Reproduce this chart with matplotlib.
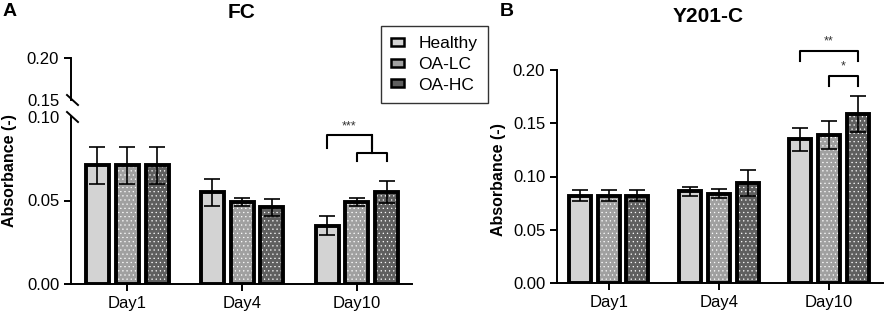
import numpy as np
import matplotlib.pyplot as plt
from matplotlib.patches import Patch

plt.rcParams['font.family'] = ['Liberation Sans', 'DejaVu Sans']
plt.rcParams['hatch.linewidth'] = 0.4

days = ["Day1", "Day4", "Day10"]
groups = ["Healthy", "OA-LC", "OA-HC"]
colors = ["#d3d3d3", "#a0a0a0", "#5f5f5f"]
hatches = [None, "....", "...."]

fc_mean = [[0.071, 0.055, 0.035],
           [0.071, 0.049, 0.049],
           [0.071, 0.046, 0.055]]
fc_err = [[0.011, 0.008, 0.0055],
          [0.011, 0.0025, 0.0025],
          [0.011, 0.005, 0.0065]]

y201_mean = [[0.082, 0.086, 0.135],
             [0.082, 0.084, 0.139],
             [0.082, 0.094, 0.159]]
y201_err = [[0.005, 0.0045, 0.011],
            [0.005, 0.004, 0.0135],
            [0.005, 0.012, 0.017]]

x = np.arange(len(days))
off = 0.26
w = 0.2


def draw_bars(ax, means, errs):
    for i in range(3):
        xs = x + (i - 1) * off
        ax.bar(xs, means[i], w, color=colors[i], edgecolor="white", hatch=hatches[i], linewidth=0, zorder=2)
        ax.bar(xs, means[i], w, color="none", edgecolor="black", linewidth=2.8, zorder=3)
        ax.errorbar(xs, means[i], yerr=errs[i], fmt="none", ecolor="black", elinewidth=1.2,
                    capsize=6, capthick=1.2, zorder=4)


def style(ax):
    for s in ["top", "right"]:
        ax.spines[s].set_visible(False)
    for s in ["left", "bottom"]:
        ax.spines[s].set_linewidth(1.4)
    ax.tick_params(width=1.4, length=5, labelsize=12)


def bracket(ax, x0, x1, y, h, lw=1.5):
    ax.plot([x0, x0, x1, x1], [y - h, y, y, y - h], color="black", lw=lw, clip_on=False, zorder=5)


fig = plt.figure(figsize=(8.86, 3.16), dpi=100)

# ---- panel A, broken y axis
axA = fig.add_axes([71 / 886, 1 - 284 / 316, 341 / 886, 167 / 316])
axAt = fig.add_axes([71 / 886, 1 - 100 / 316, 341 / 886, 42 / 316])
draw_bars(axA, fc_mean, fc_err)
style(axA)
axA.set_ylim(0, 0.10)
axA.set_yticks([0, 0.05, 0.10])
axA.set_yticklabels(["0.00", "0.05", "0.10"])
axA.set_xlim(-0.49, 2.48)
axA.set_xticks(x)
axA.set_xticklabels(days)
axA.yaxis.get_major_ticks()[2].tick1line.set_visible(False)

axAt.set_ylim(0.15, 0.20)
axAt.set_xlim(-0.49, 2.48)
axAt.set_yticks([0.15, 0.20])
axAt.set_yticklabels(["0.15", "0.20"])
axAt.set_xticks([])
style(axAt)
axAt.spines["bottom"].set_visible(False)
axAt.yaxis.get_major_ticks()[0].tick1line.set_visible(False)

# break marks
for ax, h in [(axA, 167), (axAt, 42)]:
    yb = 1.0 if ax is axA else 0.0
    ax.plot([-4 / 341, 7 / 341], [yb + 5 / h, yb - 5 / h], transform=ax.transAxes,
            color="black", lw=1.4, clip_on=False)

# significance FC
xh, xl, xhc = 2 - off, 2.0, 2 + off
bracket(axA, xl, xhc, 0.0783, 0.0048)
bracket(axA, xh, (xl + xhc) / 2, 0.0892, 0.0079)
axA.plot([(xl + xhc) / 2] * 2, [0.0783, 0.0892], color="black", lw=1.5)
axA.text((xh + (xl + xhc) / 2) / 2, 0.0945, "***", ha="center", va="center", fontsize=9, color="#333333")

fig.text(71 / 886 + 341 / 886 / 2, 1 - 13 / 316, "FC", ha="center", va="center", fontsize=15, fontweight="bold")
fig.text(10 / 886, 1 - 12 / 316, "A", ha="center", va="center", fontsize=14, fontweight="bold")
fig.text(10 / 886, 1 - 171 / 316, "Absorbance (-)", rotation=90, ha="center", va="center",
         fontsize=11.5, fontweight="bold")

# ---- panel B
axB = fig.add_axes([557 / 886, 1 - 283 / 316, 326 / 886, 213 / 316])
draw_bars(axB, y201_mean, y201_err)
style(axB)
axB.set_ylim(0, 0.20)
axB.set_yticks([0, 0.05, 0.10, 0.15, 0.20])
axB.set_yticklabels(["0.00", "0.05", "0.10", "0.15", "0.20"])
axB.set_xlim(-0.47, 2.49)
axB.set_xticks(x)
axB.set_xticklabels(days)

bracket(axB, 2 - off, 2 + off, 0.2176, 0.0093)
axB.text(2.0, 0.2265, "**", ha="center", va="center", fontsize=9, color="#333333")
bracket(axB, 2.0, 2 + off, 0.1941, 0.0093)
axB.text(2 + off / 2, 0.2035, "*", ha="center", va="center", fontsize=9, color="#333333")

fig.text(708 / 886, 1 - 17 / 316, "Y201-C", ha="center", va="center", fontsize=15, fontweight="bold")
fig.text(507 / 886, 1 - 12 / 316, "B", ha="center", va="center", fontsize=14, fontweight="bold")
fig.text(499 / 886, 1 - 180 / 316, "Absorbance (-)", rotation=90, ha="center", va="center",
         fontsize=11.5, fontweight="bold")

handles = [Patch(facecolor=colors[i], edgecolor="black", linewidth=1.8) for i in range(3)]
fig.legend(handles, groups, loc="upper left", bbox_to_anchor=(381 / 886, 1 - 26 / 316),
           frameon=True, fancybox=False, edgecolor="black", fontsize=12.5,
           handlelength=0.75, handleheight=0.35, handletextpad=0.8, borderpad=0.6,
           borderaxespad=0, labelspacing=0.32)

fig.savefig("out.png", dpi=100)
